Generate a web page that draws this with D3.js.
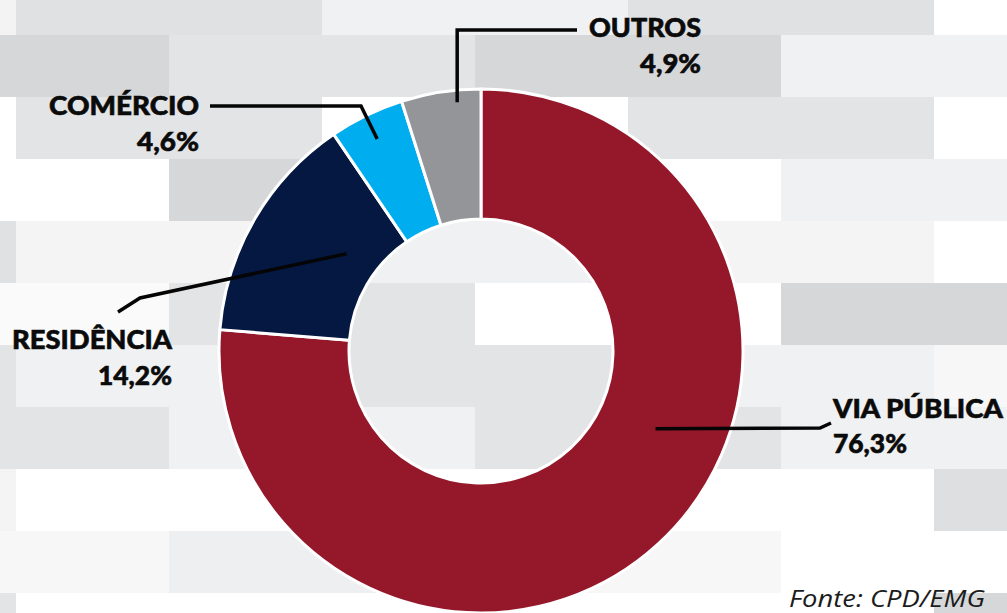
<!DOCTYPE html>
<html>
<head>
<meta charset="utf-8">
<script src="https://cdn.jsdelivr.net/npm/d3@7"></script>
<style>
    html, body { margin: 0; padding: 0; background: #fff; }
    #chart { width: 1007px; height: 613px; overflow: hidden; }
    svg { display: block; }
    .label { font-family: Lato, 'Noto Sans', sans-serif; font-weight: 900; fill: #0b0b0b; stroke: #0b0b0b; stroke-width: 0.6; }
    .leader { fill: none; stroke: #050505; stroke-width: 3.5; stroke-linejoin: miter; }
    .source { font-family: 'Open Sans', sans-serif; font-style: italic; fill: #1c1c1c; }
</style>
</head>
<body>
<div id="chart"></div>
<script>
/*
 * Chart data.
 */
var categories = ['VIA PÚBLICA', 'RESIDÊNCIA', 'COMÉRCIO', 'OUTROS'];
var shares     = [76.3, 14.2, 4.6, 4.9];
var sourceNote = 'Fonte: CPD/EMG';


/**
 * Donut chart with callout labels.
 * @public
 * @class
 */
function Donut() {
    /**
     * Chart dimensions.
     * @private
     * @member {Object}
     */
    this._size = {width: 1007, height: 613};
    /**
     * Donut geometry.
     * @private
     * @member {Object}
     */
    this._geo = {cx: 481, cy: 351, outer: 262, inner: 132};
    /**
     * Slice colors.
     * @private
     * @member {Function}
     */
    this._color = d3.scaleOrdinal()
        .domain(categories)
        .range(['#94172a', '#041842', '#00aeef', '#939598']);
    /**
     * Background brick shades, one list per row.
     * @private
     * @member {String[][]}
     */
    this._bricks = [
        ['#f3f3f4', '#e0e1e3', '#f0f1f3', '#e0e1e3', '#ffffff'],
        ['#d6d7d9', '#e3e4e6', '#d6d7d9', '#f0f1f2'],
        ['#ffffff', '#e3e4e6', '#ffffff', '#e3e4e6', '#ffffff'],
        ['#ffffff', '#d6d7d9', '#ffffff', '#f0f1f2'],
        ['#e0e1e3', '#f4f4f5', '#f0f1f2', '#f4f4f5', '#ffffff'],
        ['#fafafa', '#e3e4e6', '#ffffff', '#d6d7d9'],
        ['#e3e4e6', '#f0f1f2', '#e3e4e6', '#f0f1f2', '#f7f7f8'],
        ['#e3e4e6', '#f0f1f2', '#e3e4e6', '#f0f1f2'],
        ['#f4f4f5', '#ffffff', '#ffffff', '#ffffff', '#dedfe1'],
        ['#f7f7f8', '#eeeff0', '#f7f7f8', '#ffffff'],
        ['#e3e4e6', '#ffffff', '#ffffff', '#ffffff', '#d6d7d9']
    ];
    /**
     * Callout layout per category: where the leader starts inside the slice
     * (fraction of slice angle, radius), its bend points and the text block.
     * @private
     * @member {Object}
     */
    this._callouts = {
        'VIA PÚBLICA': {t: 0.415, r: 191, path: [[820, 428], [831, 423]],
            x: 833, y: 418, py: 453, anchor: 'start', w: 170, pw: 74},
        'RESIDÊNCIA':  {t: 0.61, r: 166, path: [[140, 298], [118, 312]],
            x: 172, y: 349, py: 385, anchor: 'end', w: 160, pw: 74},
        'COMÉRCIO':    {t: 0.49, r: 236, path: [[361, 106], [210, 106]],
            x: 199, y: 115, py: 151, anchor: 'end', w: 150, pw: 62},
        'OUTROS':      {t: 0.69, r: 250, path: [[null, 30], [577, 30]],
            x: 701, y: 37, py: 73, anchor: 'end', w: 112, pw: 61}
    };
}


/**
 * Format share as brazilian percent string.
 * @private
 * @param {Number} value
 * @returns {String}
 */
Donut.prototype._format = function(value) {

    return d3.format('.1f')(value).replace('.', ',') + '%';
};


/**
 * Draw background bricks.
 * @private
 */
Donut.prototype._drawBackground = function() {

    var rowHeight = 62, brickWidth = 306;
    var y = d3.scaleLinear().domain([0, 1]).range([-27, -27 + rowHeight]);

    var rows = this._svg.append('g')
        .attr('class', 'bricks')
        .selectAll('g')
        .data(this._bricks)
        .join('g')
        .attr('transform', (d, i) => 'translate(' + (i % 2 ? -137 : -290) + ',' + y(i) + ')');

    rows.selectAll('rect')
        .data(d => d)
        .join('rect')
        .attr('x', (d, j) => j * brickWidth)
        .attr('y', 0)
        .attr('width', brickWidth)
        .attr('height', rowHeight)
        .attr('fill', d => d);
};


/**
 * Render chart.
 * @public
 * @param {String} selection
 * @returns {Donut}
 */
Donut.prototype.renderTo = function(selection) {
    /*
     * Stash reference to this object.
     */
    var self = this;
    var geo = this._geo;
    /*
     * Append SVG element.
     */
    this._svg = d3.select(selection).append('svg')
        .attr('width', this._size.width)
        .attr('height', this._size.height);

    this._drawBackground();
    /*
     * Build pie layout, keeping source order, clockwise from the top.
     */
    var data = categories.map((c, i) => ({name: c, value: shares[i]}));
    var arcs = d3.pie()
        .sort(null)
        .value(d => d.value)(data);

    var arc = d3.arc()
        .innerRadius(geo.inner)
        .outerRadius(geo.outer);

    var donut = this._svg.append('g')
        .attr('transform', 'translate(' + geo.cx + ',' + geo.cy + ')');

    donut.selectAll('path')
        .data(arcs)
        .join('path')
        .attr('d', arc)
        .attr('fill', d => self._color(d.data.name))
        .attr('stroke', '#fff')
        .attr('stroke-width', 3)
        .attr('stroke-linejoin', 'round');
    /*
     * Leader lines.
     */
    var line = d3.line();

    this._svg.append('g')
        .selectAll('path')
        .data(arcs)
        .join('path')
        .attr('class', 'leader')
        .attr('d', function(d) {
            var c = self._callouts[d.data.name];
            var a = d.startAngle + c.t * (d.endAngle - d.startAngle);
            var p = d3.pointRadial(a, c.r);
            var start = [geo.cx + p[0], geo.cy + p[1]];
            var pts = [start].concat(c.path.map(q => [q[0] === null ? start[0] : q[0], q[1]]));
            return line(pts);
        });
    /*
     * Category names and shares.
     */
    var labels = this._svg.append('g')
        .selectAll('g')
        .data(arcs)
        .join('g');

    labels.append('text')
        .attr('class', 'label')
        .attr('x', d => self._callouts[d.data.name].x)
        .attr('y', d => self._callouts[d.data.name].y)
        .attr('text-anchor', d => self._callouts[d.data.name].anchor)
        .attr('font-size', 27)
        .attr('textLength', d => self._callouts[d.data.name].w)
        .attr('lengthAdjust', 'spacingAndGlyphs')
        .text(d => d.data.name);

    labels.append('text')
        .attr('class', 'label')
        .attr('x', d => self._callouts[d.data.name].x)
        .attr('y', d => self._callouts[d.data.name].py)
        .attr('text-anchor', d => self._callouts[d.data.name].anchor)
        .attr('font-size', 27)
        .attr('textLength', d => self._callouts[d.data.name].pw)
        .attr('lengthAdjust', 'spacingAndGlyphs')
        .text(d => self._format(d.data.value));
    /*
     * Source note.
     */
    this._svg.append('text')
        .attr('class', 'source')
        .attr('x', 985)
        .attr('y', 607)
        .attr('text-anchor', 'end')
        .attr('font-size', 23)
        .attr('textLength', 196)
        .attr('lengthAdjust', 'spacingAndGlyphs')
        .text(sourceNote);

    return this;
};


new Donut().renderTo('#chart');
</script>
</body>
</html>
